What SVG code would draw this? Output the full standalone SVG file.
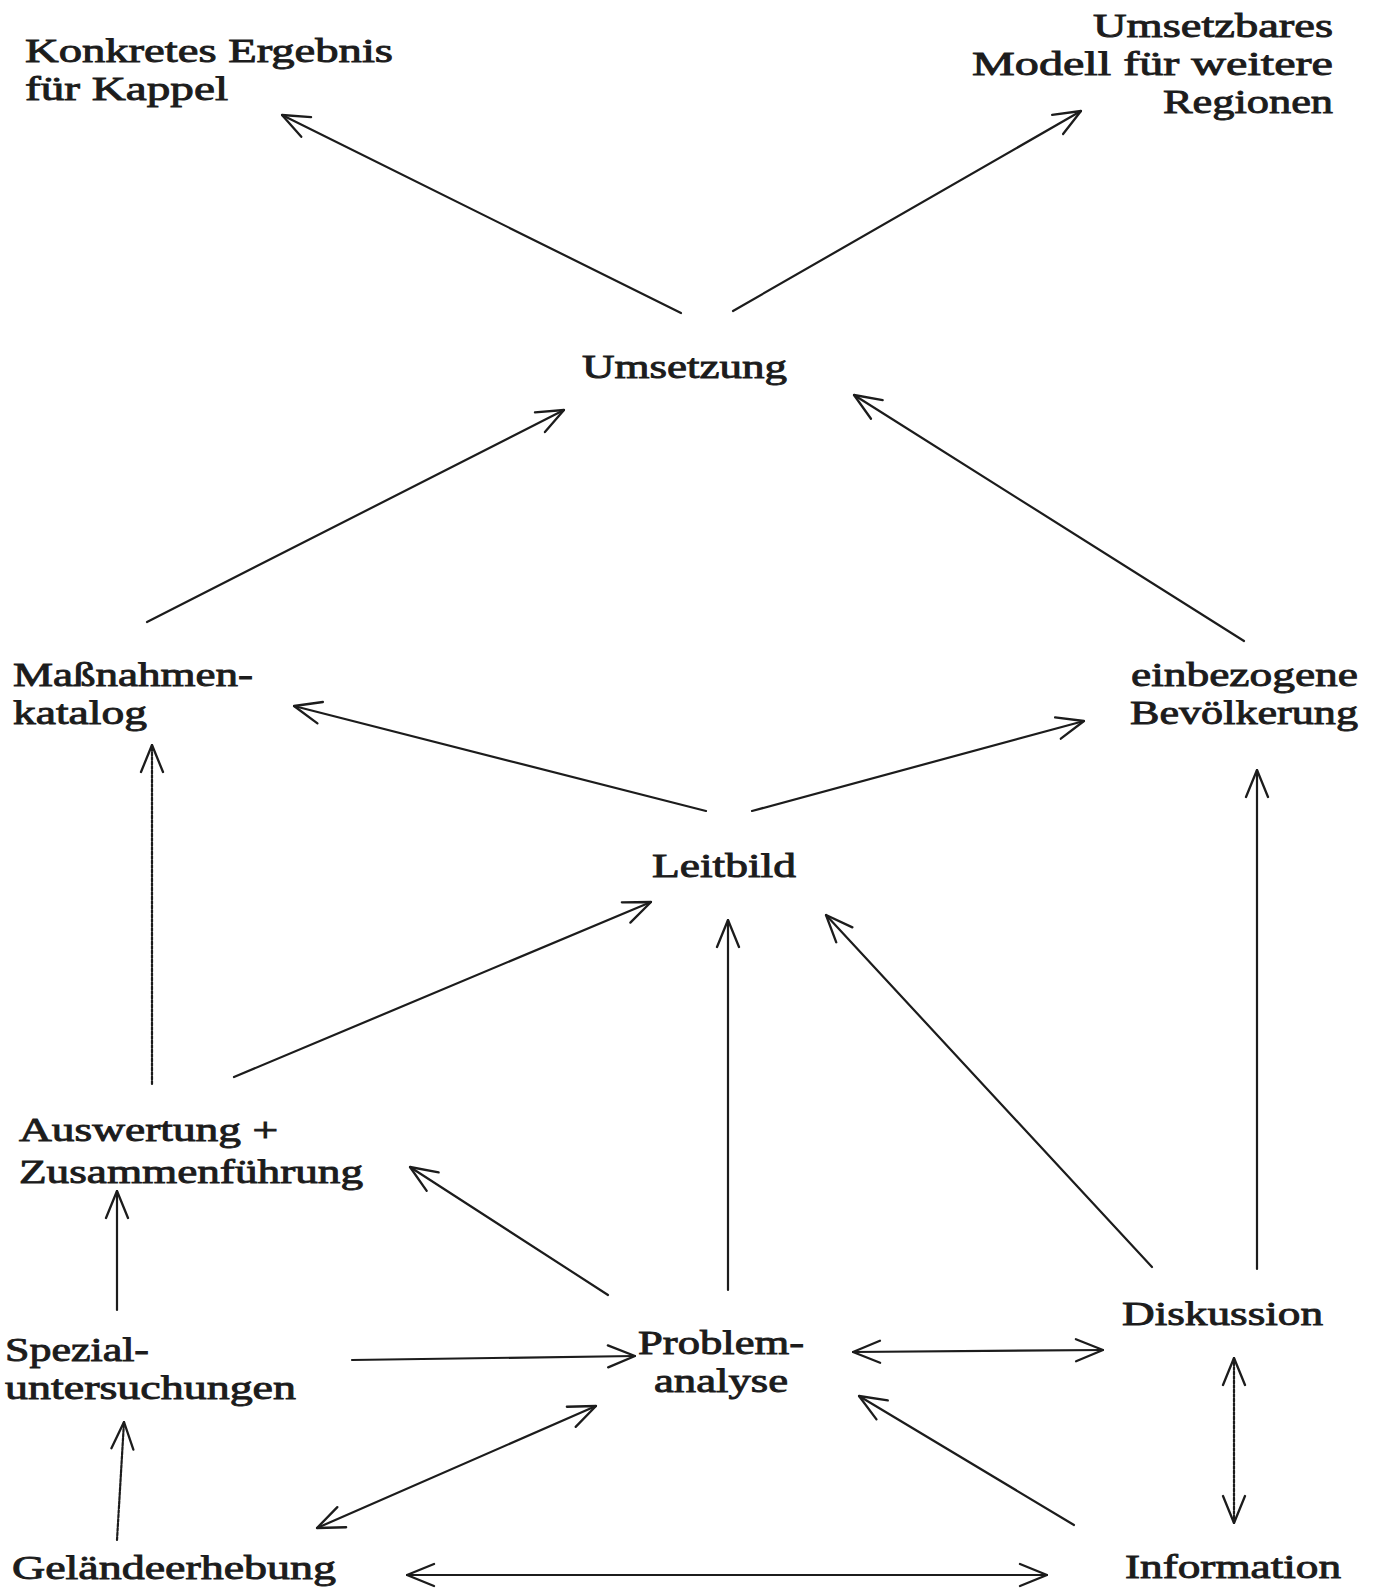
<svg xmlns="http://www.w3.org/2000/svg" width="1377" height="1589" viewBox="0 0 1377 1589">
<style>
text{font-family:"Liberation Serif","DejaVu Serif",serif;font-size:34px;fill:#1c1c1c;stroke:#1c1c1c;stroke-width:0.9}
.c line{stroke:#1c1c1c;stroke-width:2.2;fill:none;stroke-linecap:round}
.a{marker-end:url(#h)}
.b{marker-start:url(#h);marker-end:url(#h)}
.d{stroke-dasharray:3 1.5}
</style>
<defs>
<marker id="h" viewBox="0 0 30 26" refX="29" refY="13" markerWidth="30" markerHeight="26" markerUnits="userSpaceOnUse" orient="auto-start-reverse">
<path d="M2,2 L29,13 L2,24" fill="none" stroke="#1c1c1c" stroke-width="2.3" stroke-linecap="round" stroke-linejoin="round"/>
</marker>
</defs>
<rect width="1377" height="1589" fill="#fff"/>
<g id="konkret"><text x="25" y="62" textLength="368" lengthAdjust="spacingAndGlyphs">Konkretes Ergebnis</text><text x="25" y="100" textLength="203" lengthAdjust="spacingAndGlyphs">für Kappel</text></g>
<g id="modell" text-anchor="end"><text x="1333" y="37" textLength="240" lengthAdjust="spacingAndGlyphs">Umsetzbares</text><text x="1333" y="75" textLength="361" lengthAdjust="spacingAndGlyphs">Modell für weitere</text><text x="1333" y="113" textLength="170" lengthAdjust="spacingAndGlyphs">Regionen</text></g>
<g id="umsetzung"><text x="582" y="378" textLength="205" lengthAdjust="spacingAndGlyphs">Umsetzung</text></g>
<g id="massnahmen"><text x="13" y="686" textLength="240" lengthAdjust="spacingAndGlyphs">Maßnahmen-</text><text x="13" y="724" textLength="134" lengthAdjust="spacingAndGlyphs">katalog</text></g>
<g id="bevoelkerung"><text x="1131" y="686" textLength="227" lengthAdjust="spacingAndGlyphs">einbezogene</text><text x="1130" y="724" textLength="228" lengthAdjust="spacingAndGlyphs">Bevölkerung</text></g>
<g id="leitbild"><text x="652" y="877" textLength="144" lengthAdjust="spacingAndGlyphs">Leitbild</text></g>
<g id="auswertung"><text x="19" y="1141" textLength="259" lengthAdjust="spacingAndGlyphs">Auswertung +</text><text x="19" y="1183" textLength="344" lengthAdjust="spacingAndGlyphs">Zusammenführung</text></g>
<g id="spezial"><text x="5" y="1361" textLength="144" lengthAdjust="spacingAndGlyphs">Spezial-</text><text x="5" y="1399" textLength="291" lengthAdjust="spacingAndGlyphs">untersuchungen</text></g>
<g id="problem"><text x="638" y="1354" textLength="166" lengthAdjust="spacingAndGlyphs">Problem-</text><text x="654" y="1392" textLength="134" lengthAdjust="spacingAndGlyphs">analyse</text></g>
<g id="diskussion"><text x="1122" y="1325" textLength="201" lengthAdjust="spacingAndGlyphs">Diskussion</text></g>
<g id="gelaende"><text x="12" y="1579" textLength="324" lengthAdjust="spacingAndGlyphs">Geländeerhebung</text></g>
<g id="information"><text x="1125" y="1578" textLength="216" lengthAdjust="spacingAndGlyphs">Information</text></g>
<g id="connectors" class="c">
<line class="a" x1="681" y1="313" x2="282" y2="115"/>
<line class="a" x1="733" y1="311" x2="1081" y2="111"/>
<line class="a" x1="147" y1="622" x2="564" y2="410"/>
<line class="a" x1="1244" y1="641" x2="854" y2="395"/>
<line class="a" x1="706" y1="811" x2="294" y2="706"/>
<line class="a" x1="752" y1="811" x2="1084" y2="721"/>
<line class="a d" x1="152" y1="1084" x2="152" y2="745"/>
<line class="a" x1="234" y1="1077" x2="651" y2="902"/>
<line class="a" x1="728" y1="1290" x2="728" y2="920"/>
<line class="a" x1="1152" y1="1267" x2="826" y2="915"/>
<line class="a" x1="1257" y1="1269" x2="1257" y2="770"/>
<line class="a" x1="608" y1="1295" x2="410" y2="1167"/>
<line class="a" x1="117" y1="1310" x2="117" y2="1191"/>
<line class="a" x1="352" y1="1360" x2="635" y2="1356"/>
<line class="b" x1="853" y1="1352" x2="1103" y2="1350"/>
<line class="b d" x1="1234" y1="1358" x2="1234" y2="1523"/>
<line class="a" x1="1074" y1="1525" x2="859" y2="1396"/>
<line class="b" x1="596" y1="1406" x2="317" y2="1528"/>
<line class="a d" x1="117" y1="1540" x2="124" y2="1422"/>
<line class="b" x1="407" y1="1575" x2="1047" y2="1575"/>
</g>
</svg>
